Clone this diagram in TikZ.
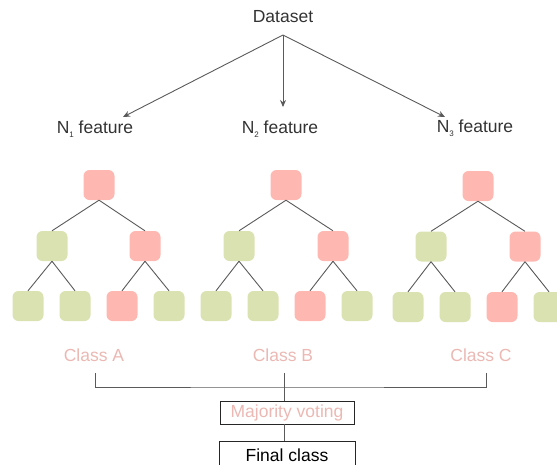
\documentclass[tikz,border=0pt]{standalone}
\usepackage{fontspec}
\setmainfont{Liberation Sans}
\usetikzlibrary{arrows.meta}
\definecolor{pinkbox}{HTML}{FFB8B1}
\definecolor{greenbox}{HTML}{D9E2B0}
\definecolor{linegray}{HTML}{5A5A5A}
\definecolor{classpink}{HTML}{EBB8B3}
\newcommand{\smallsub}[1]{\raisebox{-3.5pt}{\fontsize{8}{8}\selectfont #1}}
\tikzset{
  leaf/.style={minimum width=31pt, minimum height=30pt, rounded corners=6pt, inner sep=0pt},
  pk/.style={leaf, fill=pinkbox},
  gn/.style={leaf, fill=greenbox},
  edge/.style={draw=linegray, line width=0.9pt},
  arr/.style={draw=linegray, line width=0.9pt, -{Stealth[length=7pt,width=6pt]}},
  lbl/.style={font=\fontsize{17.5}{20}\selectfont, text=black!80, inner sep=0pt},
  cls/.style={font=\fontsize{17.5}{20}\selectfont, text=classpink, inner sep=0pt},
  boxed/.style={draw=black!85, line width=0.9pt, inner sep=0pt, font=\fontsize{17.5}{20}\selectfont},
}
\begin{document}
\begin{tikzpicture}[x=1pt,y=-1pt]
\useasboundingbox (0,0) rectangle (557,464);
% top
\node[lbl] (ds) at (283,17) {Dataset};
\coordinate (dsout) at (283,35);
\node[lbl] (n1) at (95,129) {N\smallsub{1} feature};
\node[lbl] (n2) at (280,129) {N\smallsub{2} feature};
\node[lbl] (n3) at (475,128) {N\smallsub{3} feature};
\coordinate (e1) at (123,117);
\coordinate (e2) at (283,107);
\coordinate (e3) at (445,117);
\draw[arr] (dsout) -- (e1);
\draw[arr] (dsout) -- (e2);
\draw[arr] (dsout) -- (e3);
% tree 1
\node[pk] (t1r) at (99,185) {};
\node[gn] (t1a) at (52,246) {};
\node[pk] (t1b) at (145,246) {};
\node[gn] (t1aa) at (28,306) {};
\node[gn] (t1ab) at (75,306) {};
\node[pk] (t1ba) at (122,306) {};
\node[gn] (t1bb) at (169,306) {};
% tree 2
\node[pk] (t2r) at (286,185) {};
\node[gn] (t2a) at (239,246) {};
\node[pk] (t2b) at (333,246) {};
\node[gn] (t2aa) at (216,306) {};
\node[gn] (t2ab) at (263,306) {};
\node[pk] (t2ba) at (310,306) {};
\node[gn] (t2bb) at (357,306) {};
% tree 3
\node[pk] (t3r) at (478,186) {};
\node[gn] (t3a) at (431,246.5) {};
\node[pk] (t3b) at (525,246.5) {};
\node[gn] (t3aa) at (408,307) {};
\node[gn] (t3ab) at (455,307) {};
\node[pk] (t3ba) at (502,307) {};
\node[gn] (t3bb) at (549,307) {};
\foreach \t in {1,2,3}{
  \draw[edge] (t\t r.south) -- (t\t a.north);
  \draw[edge] (t\t r.south) -- (t\t b.north);
  \draw[edge] (t\t a.south) -- (t\t aa.north);
  \draw[edge] (t\t a.south) -- (t\t ab.north);
  \draw[edge] (t\t b.south) -- (t\t ba.north);
  \draw[edge] (t\t b.south) -- (t\t bb.north);
}
% classes
\node[cls] (ca) at (94,355) {Class A};
\node[cls] (cb) at (283,355) {Class B};
\node[cls] (cc) at (481,355) {Class C};
\coordinate (bl) at (95,373);
\coordinate (bm) at (284,387);
\coordinate (br) at (486,373);
\coordinate (bc) at (284,373);
\draw[edge] (bl) |- (bm) -| (br);
\node[boxed, minimum width=134pt, minimum height=23pt, text=classpink] (mv) at (287,412.5) {Majority voting};
\draw[edge] (bc) -- (mv.north -| bc);
\node[boxed, minimum width=136pt, minimum height=27pt, text=black, anchor=north] (fc) at (287,441) {Final class};
\draw[edge] (mv.south -| bc) -- (fc.north -| bc);
\end{tikzpicture}
\end{document}
